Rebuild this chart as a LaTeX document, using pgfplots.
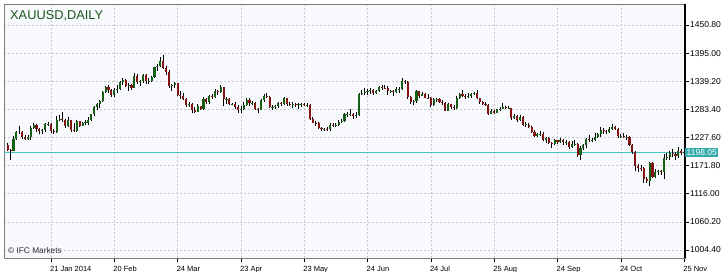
\documentclass[border=0pt]{standalone}
\usepackage{pgfplots}
\usepackage{pgfplotstable}
\pgfplotsset{compat=1.18}
\usepackage{fontspec}
\setmainfont{Liberation Sans}
\definecolor{bull}{RGB}{22,96,22}
\definecolor{bear}{RGB}{132,20,20}
\definecolor{ttl}{RGB}{25,85,25}
\definecolor{bidline}{RGB}{70,196,196}
\definecolor{bidbox}{RGB}{52,170,170}
\definecolor{gridc}{RGB}{200,200,205}
\definecolor{framec}{RGB}{125,125,125}
\definecolor{plotbg}{RGB}{248,249,253}

\pgfplotstableread{
x o h l c
-15 1213 1217 1200 1203
-14 1203 1205 1182 1201
-13 1201 1231 1200 1225
-12 1225 1240 1222 1238
-11 1238 1251 1234 1238
-10 1238 1240 1225 1229
-9 1229 1232 1222 1225
-8 1225 1233 1223 1229
-7 1229 1250 1223 1247
-6 1247 1256 1245 1253
-5 1253 1255 1238 1245
-4 1245 1246 1234 1241
-3 1241 1245 1234 1242
-2 1242 1256 1239 1254
-1 1254 1259 1250 1254.5
0 1254 1257 1236 1241
1 1241 1244 1234 1238
2 1238 1270 1236 1262
3 1262 1272 1260 1264
4 1264 1279 1259 1263
5 1263 1265 1247 1250
6 1250 1269 1248 1262
7 1262 1263 1239 1243
8 1243 1256 1238 1240
9 1240 1262 1239 1260
10 1260 1261 1248 1251
11 1251 1259 1250 1257
12 1257 1263 1253 1257.5
13 1257 1268 1252 1262
14 1262 1275 1260 1274
15 1274 1291 1271 1289
16 1289 1296 1283 1294
17 1294 1302 1287 1300
18 1300 1320 1298 1318
19 1318 1330 1315 1328
20 1328 1332 1315 1321
21 1321 1323 1308 1312
22 1312 1325 1307 1322
23 1322 1332 1316 1323
24 1323 1340 1322 1338
25 1338 1345 1332 1342
26 1342 1344 1327 1329
27 1329 1336 1320 1332
28 1332 1333 1321 1326
29 1326 1355 1325 1350
30 1350 1354 1333 1337
31 1337 1341 1330 1339
32 1339 1354 1336 1351
33 1351 1353 1334 1339
34 1339 1345 1334 1340
35 1340 1349 1337 1347
36 1347 1368 1345 1367
37 1367 1374 1359 1370
38 1370 1388 1368 1379
39 1379 1392 1364 1366
40 1366 1370 1352 1358
41 1358 1362 1326 1330
42 1330 1334 1320 1331
43 1331 1338 1325 1335
44 1335 1336 1310 1312
45 1312 1319 1304 1309
46 1309 1315 1301 1304
47 1304 1306 1288 1293
48 1293 1299 1288 1294
49 1294 1297 1277 1283
50 1283 1288 1277 1279
51 1279 1294 1279 1290
52 1290 1290 1282 1285
53 1285 1307 1283 1303
54 1303 1305 1294 1299
55 1299 1312 1294 1310
56 1310 1313 1303 1307
57 1307 1324 1306 1319
58 1319 1321 1311 1318
59 1318 1331 1316 1327
60 1327 1327 1291 1303
61 1303 1307 1295 1303.5
62 1303 1305 1292 1294
63 1294 1297 1293 1295
64 1295 1298 1285 1289
65 1289 1292 1277 1283
66 1283 1290 1277 1284
67 1284 1298 1283 1293
68 1293 1305 1290 1302
69 1302 1306 1291 1296
70 1296 1300 1292 1296.5
71 1296 1299 1283 1284
72 1284 1287 1277 1283
73 1283 1304 1282 1302
74 1302 1313 1299 1309
75 1309 1315 1305 1308
76 1308 1310 1286 1288
77 1288 1292 1282 1288.5
78 1288 1292 1285 1290
79 1290 1298 1287 1296
80 1296 1298 1290 1295
81 1295 1307 1293 1305
82 1305 1306 1290 1294
83 1294 1298 1290 1293
84 1293 1298 1287 1294
85 1294 1297 1288 1293
86 1293 1297 1285 1294
87 1294 1297 1289 1294.5
88 1294 1296 1290 1292
89 1292 1296 1289 1293
90 1293 1295 1263 1265
91 1265 1268 1256 1257
92 1257 1261 1251 1256
93 1256 1259 1245 1246
94 1246 1248 1241 1244
95 1244 1247 1240 1244.5
96 1244 1249 1241 1243.5
97 1244 1257 1241 1253
98 1253 1257 1248 1252
99 1252 1256 1249 1253
100 1253 1262 1250 1259
101 1259 1265 1257 1261
102 1261 1276 1259 1274
103 1274 1279 1268 1274.5
104 1274 1284 1271 1275
105 1275 1277 1265 1271
106 1271 1278 1266 1272
107 1272 1316 1271 1313
108 1313 1321 1311 1315
109 1315 1325 1311 1317
110 1317 1324 1312 1320
111 1320 1325 1314 1322
112 1322 1324 1312 1316
113 1316 1322 1313 1320
114 1320 1330 1317 1327
115 1327 1332 1322 1326
116 1326 1331 1323 1325
117 1325 1330 1311 1320
118 1320 1322 1316 1320.5
119 1320 1322 1310 1317
120 1317 1327 1315 1324
121 1324 1327 1316 1324.5
122 1324 1345 1322 1339
123 1339 1341 1333 1337
124 1337 1339 1304 1307
125 1307 1310 1294 1298
126 1298 1302 1293 1300
127 1300 1322 1297 1319
128 1319 1320 1306 1310
129 1310 1317 1309 1314
130 1314 1316 1305 1306
131 1306 1313 1304 1305
132 1305 1308 1288 1292
133 1292 1305 1290 1303
134 1303 1306 1298 1303.5
135 1303 1306 1296 1299
136 1299 1302 1293 1296
137 1296 1298 1280 1281
138 1281 1297 1281 1294
139 1294 1295 1284 1288
140 1288 1292 1282 1287
141 1287 1310 1285 1306
142 1306 1316 1304 1313
143 1313 1322 1307 1310
144 1310 1313 1304 1308
145 1308 1315 1305 1309
146 1309 1316 1305 1313
147 1313 1318 1312 1315
148 1315 1321 1303 1305
149 1305 1306 1295 1298
150 1298 1300 1292 1295
151 1295 1298 1290 1293
152 1293 1294 1273 1275
153 1275 1284 1274 1281
154 1281 1283 1275 1277
155 1277 1285 1276 1284
156 1284 1288 1280 1285
157 1285 1296 1284 1289
158 1289 1291 1284 1286
159 1286 1290 1285 1286.5
160 1286 1287 1263 1266
161 1266 1274 1264 1271
162 1271 1273 1259 1262
163 1262 1273 1261 1268
164 1268 1270 1251 1253
165 1253 1258 1248 1253.5
166 1253 1257 1246 1248
167 1248 1251 1236 1239
168 1239 1242 1228 1230
169 1230 1237 1228 1235
170 1235 1240 1230 1235.5
171 1235 1239 1221 1223
172 1223 1229 1216 1226
173 1226 1228 1215 1216
174 1216 1218 1207 1214
175 1214 1224 1212 1222
176 1222 1223 1214 1219
177 1219 1226 1216 1223
178 1223 1224 1212 1218
179 1218 1223 1212 1218.5
180 1218 1220 1204 1208
181 1208 1220 1207 1214
182 1214 1222 1210 1215
183 1215 1216 1189 1192
184 1192 1210 1183 1207
185 1207 1214 1203 1212
186 1212 1226 1207 1225
187 1225 1232 1218 1222
188 1222 1226 1218 1222.5
189 1222 1236 1220 1229
190 1229 1236 1226 1234
191 1234 1249 1228 1243
192 1243 1246 1234 1240
193 1240 1242 1234 1238
194 1238 1248 1236 1245
195 1245 1255 1242 1249
196 1249 1251 1243 1245
197 1245 1246 1226 1230
198 1230 1234 1226 1231
199 1231 1236 1226 1228
200 1228 1232 1223 1229
201 1229 1230 1210 1212
202 1212 1214 1195 1199
203 1199 1200 1161 1171
204 1171 1175 1160 1168
205 1168 1173 1162 1167
206 1167 1169 1137 1145
207 1145 1150 1137 1142
208 1142 1178 1131 1177
209 1177 1178 1147 1150
210 1150 1165 1148 1160
211 1160 1164 1153 1161
212 1161 1164 1154 1160
213 1160 1194 1145 1187
214 1187 1197 1182 1188
215 1188 1200 1182 1197
216 1197 1204 1188 1194
217 1194 1198 1183 1190
218 1190 1208 1187 1200
219 1200 1204 1193 1197
220 1197 1202 1193 1198.05
}\candles

\begin{document}
\begin{tikzpicture}
\useasboundingbox (0,0) rectangle (725pt,272pt);
\begin{axis}[
  at={(4pt,14pt)}, anchor=south west,
  width=681pt, height=254pt, scale only axis,
  xmin=-16.3, xmax=220.3,
  ymin=988.5, ymax=1492.5,
  clip=false,
  axis background/.style={fill=plotbg},
  axis line style={draw=framec, line width=0.8pt},
  xtick={0,22,44,66,88,110,132,154,176,198,220},
  xticklabels={21 Jan 2014,20 Feb,24 Mar,23 Apr,23 May,24 Jun,24 Jul,25 Aug,24 Sep,24 Oct,25 Nov},
  ytick={1004.4,1060.2,1116.0,1171.8,1227.6,1283.4,1339.2,1395.0,1450.8},
  yticklabels={1004.40,1060.20,1116.00,1171.80,1227.60,1283.40,1339.20,1395.00,1450.80},
  xtick pos=bottom, ytick pos=right, yticklabel pos=right,
  tick align=outside, major tick length=4pt,
  tick style={black, line width=0.6pt},
  grid=major,
  major grid style={draw=gridc, line width=0.6pt, dash pattern=on 2pt off 2pt},
  xticklabel style={anchor=north west, inner sep=0pt, xshift=-1pt, yshift=-4pt,
    font=\fontsize{7.5}{8}\selectfont},
  yticklabel style={anchor=west, inner sep=0pt, xshift=1pt,
    font=\fontsize{8.5}{9}\selectfont},
]
% current price line
\addplot[bidline, line width=0.9pt, mark=none, forget plot]
  coordinates {(-16.3,1198.05) (220.3,1198.05)};
% wicks
\addplot[draw=none, mark=none, forget plot,
  error bars/.cd, y dir=minus, y explicit, error mark=none,
  error bar style={draw=black, line width=0.75pt, solid}]
  table[x=x, y=h, y error minus expr=\thisrow{h}-\thisrow{l}] {\candles};
% bullish bodies
\addplot[draw=none, mark=none, forget plot,
  restrict expr to domain={\thisrow{c}-\thisrow{o}}{0:100000},
  error bars/.cd, y dir=minus, y explicit, error mark=none,
  error bar style={draw=bull, line width=2.1pt, solid}]
  table[x=x, y=c, y error minus expr=\thisrow{c}-\thisrow{o}] {\candles};
% bearish bodies
\addplot[draw=none, mark=none, forget plot,
  restrict expr to domain={\thisrow{o}-\thisrow{c}}{0.001:100000},
  error bars/.cd, y dir=minus, y explicit, error mark=none,
  error bar style={draw=bear, line width=2.1pt, solid}]
  table[x=x, y=o, y error minus expr=\thisrow{o}-\thisrow{c}] {\candles};
% right axis line in black
\draw[black, line width=1.2pt] (rel axis cs:1,0) -- (rel axis cs:1,1);
% bid price box
\node[fill=bidbox, text=white, anchor=west, inner xsep=1.5pt, inner ysep=1.5pt,
  font=\fontsize{8.5}{9}\selectfont]
  at ({rel axis cs:1,0} |- {axis cs:0,1198.05}) {1198.05};
% title
\node[anchor=base west, inner sep=0pt, text=ttl, font=\fontsize{12.8}{14}\selectfont]
  at ([xshift=6pt, yshift=-16pt]rel axis cs:0,1) {XAUUSD,DAILY};
% copyright
\node[anchor=base west, inner sep=0pt, text=black!80, font=\fontsize{8.3}{9}\selectfont]
  at ([xshift=4pt, yshift=4pt]rel axis cs:0,0) {© IFC Markets};
\end{axis}
\end{tikzpicture}
\end{document}
